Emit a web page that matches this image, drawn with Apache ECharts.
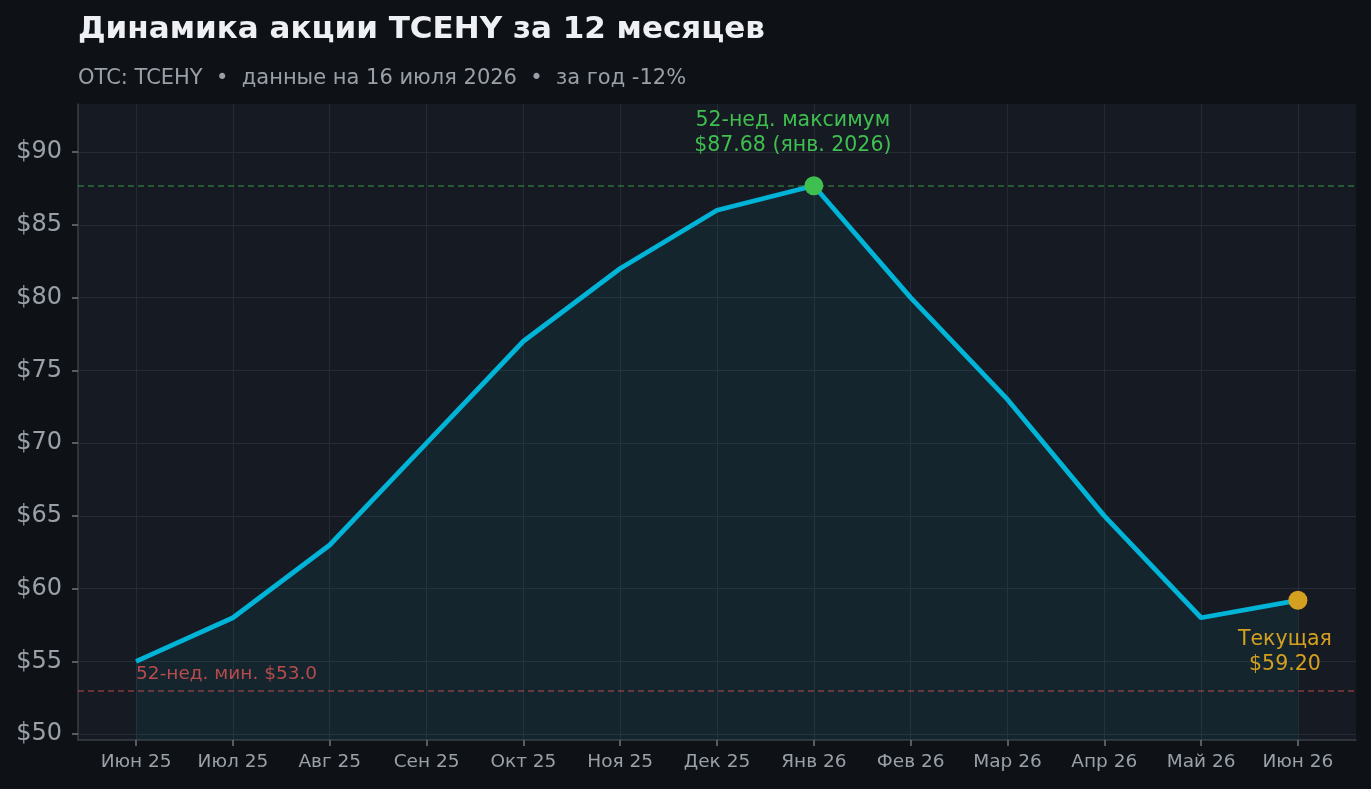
<!DOCTYPE html>
<html><head><meta charset="utf-8">
<script src="https://cdn.jsdelivr.net/npm/echarts@6/dist/echarts.min.js"></script>
<style>html,body{margin:0;padding:0;background:#0e1217;}#c{width:1371px;height:789px;}</style>
</head><body><div id="c"></div>
<script>
const categories = ['Июн 25','Июл 25','Авг 25','Сен 25','Окт 25','Ноя 25','Дек 25','Янв 26','Фев 26','Мар 26','Апр 26','Май 26','Июн 26'];
const prices = [55, 58, 63, 70, 77, 82, 86, 87.68, 80, 73, 65, 58, 59.2];
const low52 = 53.0;
const high52 = 87.68;
const titleText = 'Динамика акции TCEHY за 12 месяцев';
const subtitleText = 'OTC: TCEHY  •  данные на 16 июля 2026  •  за год -12%';
const highLabel = '52-нед. максимум\n$87.68 (янв. 2026)';
const lowLabel = '52-нед. мин. $53.0';
const currentLabel = 'Текущая\n$59.20';

const FONT = '"DejaVu Sans", sans-serif';
const lineData = prices.map((v, i) => [i, v]);
let maxIdx = 0;
prices.forEach((v, i) => { if (v > prices[maxIdx]) maxIdx = i; });
const lastIdx = prices.length - 1;

const chart = echarts.init(document.getElementById('c'));
chart.setOption({
  backgroundColor: '#0e1217',
  animation: false,
  textStyle: { fontFamily: FONT },
  title: [
    { text: titleText, left: 78, top: 14, padding: 0, textStyle: { color: '#eef0f3', fontSize: 31, fontWeight: 'bold', fontFamily: FONT } },
    { text: subtitleText, left: 78, top: 68, padding: 0, textStyle: { color: '#9aa0a8', fontSize: 21, fontWeight: 'normal', fontFamily: FONT } }
  ],
  grid: { left: 78, right: 15, top: 104, bottom: 49, show: true, backgroundColor: '#161a22', borderWidth: 0 },
  xAxis: {
    type: 'value', min: -0.6, max: 12.6, minInterval: 1, maxInterval: 1, splitNumber: 13,
    axisLine: { show: true, onZero: false, lineStyle: { color: '#3a3f48', width: 1.5 } },
    axisTick: { show: true, length: 6, lineStyle: { color: '#70757e', width: 1.5 } },
    axisLabel: {
      color: '#9aa0a8', fontSize: 18.5, fontFamily: FONT, margin: 13,
      showMinLabel: false, showMaxLabel: false,
      formatter: v => (Number.isInteger(v) && categories[v] !== undefined) ? categories[v] : ''
    },
    splitLine: { show: true, showMinLine: false, showMaxLine: false, lineStyle: { color: '#252b34', width: 1 } }
  },
  yAxis: {
    type: 'value', min: 49.6, max: 93.3, minInterval: 5, maxInterval: 5, splitNumber: 9,
    axisLine: { show: true, onZero: false, lineStyle: { color: '#3a3f48', width: 1.5 } },
    axisTick: { show: true, length: 6, lineStyle: { color: '#70757e', width: 1.5 } },
    axisLabel: {
      color: '#9aa0a8', fontSize: 24, fontFamily: FONT, margin: 16, padding: [4, 0, 0, 0],
      showMinLabel: false, showMaxLabel: false,
      formatter: v => (Math.abs(v % 5) < 1e-6) ? '$' + v : ''
    },
    splitLine: { show: true, showMinLine: false, showMaxLine: false, lineStyle: { color: '#252b34', width: 1 } }
  },
  series: [
    {
      type: 'line', data: lineData, symbol: 'none', z: 3,
      lineStyle: { color: '#00b4d8', width: 4.8 },
      areaStyle: { color: 'rgba(0,180,216,0.1)', origin: 'start' },
      markLine: {
        silent: true, symbol: 'none', label: { show: false },
        data: [
          { yAxis: high52, lineStyle: { color: 'rgba(63,191,80,0.5)', type: [6, 4], width: 1.5 } },
          { yAxis: low52, lineStyle: { color: 'rgba(224,85,85,0.55)', type: [6, 4], width: 1.5 } }
        ]
      }
    },
    {
      type: 'scatter', z: 5, symbolSize: 19,
      data: [
        { value: [maxIdx, prices[maxIdx]], itemStyle: { color: '#3fbf50', opacity: 1 },
          label: { show: true, position: 'top', offset: [-21, -13], formatter: highLabel, color: '#3fbf50', fontSize: 20.5, lineHeight: 25, fontFamily: FONT, align: 'center' } },
        { value: [lastIdx, prices[lastIdx]], itemStyle: { color: '#d4a020', opacity: 1 },
          label: { show: true, position: 'bottom', offset: [-13, 12], formatter: currentLabel, color: '#d4a020', fontSize: 20.5, lineHeight: 25, fontFamily: FONT, align: 'center' } }
      ]
    },
    {
      type: 'scatter', z: 5, symbolSize: 0, silent: true,
      data: [
        { value: [0, low52],
          label: { show: true, position: 'right', distance: 0, offset: [0, -16], formatter: lowLabel, color: '#e05555', fontSize: 18.5, fontFamily: FONT } }
      ]
    }
  ]
});
</script></body></html>
